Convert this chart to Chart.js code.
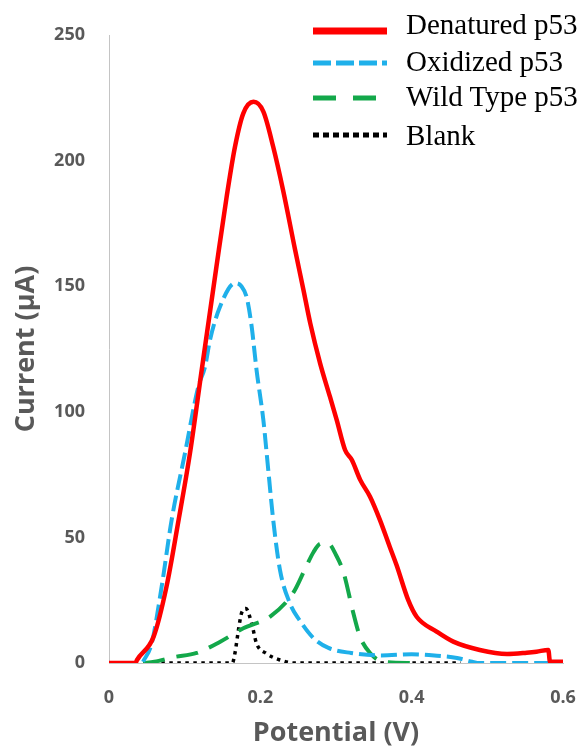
<!DOCTYPE html>
<html lang="en">
<head>
  <meta charset="UTF-8" />
  <title>p53 Voltammetry</title>
  <script src="https://cdn.jsdelivr.net/npm/chart.js"></script>
  <style>
    body { margin: 0; background: #fff; overflow: hidden; }
    .wrap { position: relative; width: 584px; height: 747px; }
    canvas { display: block; }
    .legend { position: absolute; left: 0; top: 0; font-family: "Liberation Serif", "Times New Roman", serif; font-size: 29px; color: #000; }
    .legend .row { position: absolute; left: 313px; white-space: nowrap; }
    .legend svg { position: absolute; left: 0; }
    .legend span { position: absolute; left: 93px; line-height: 1; }
  </style>
</head>
<body>
  <div class="wrap">
    <canvas id="chart" width="584" height="747"></canvas>
    <div class="legend" id="legend"></div>
  </div>
  <script>
    // Potential (V) / current (uA)
    const denaturedV = [0, 0.035, 0.037, 0.059, 0.076, 0.092, 0.107, 0.1225, 0.142, 0.1555, 0.1665, 0.1775, 0.191, 0.204, 0.217, 0.230, 0.246, 0.257, 0.266, 0.279, 0.292, 0.301, 0.312, 0.321, 0.332, 0.345, 0.358, 0.371, 0.380, 0.3955, 0.4066, 0.433, 0.455, 0.49, 0.526, 0.552, 0.565, 0.5806, 0.5828, 0.6];
    const denaturedI = [0, 0, 1.2, 10.5, 30.4, 57, 83.5, 116.6, 157.8, 185.6, 205.5, 218.8, 223.4, 219.5, 205.5, 188.3, 164.4, 148.5, 135.2, 119.3, 106, 96.7, 84.8, 80.8, 72.9, 66.2, 57, 46.3, 39, 25, 18.4, 12.5, 8.5, 5.2, 3.6, 4.1, 4.5, 5.2, 0.5, 0.5];

    const oxidizedV = [0.045, 0.0564, 0.0696, 0.0828, 0.1004, 0.118, 0.127, 0.1335, 0.1467, 0.1665, 0.175, 0.182, 0.1885, 0.193, 0.195, 0.204, 0.2105, 0.217, 0.226, 0.239, 0.252, 0.27, 0.29, 0.32, 0.36, 0.40, 0.43, 0.46, 0.48, 0.49, 0.583];
    const oxidizedI = [0.5, 7.8, 30.4, 57, 83.5, 110, 118, 128.6, 141.8, 151.2, 150, 145.5, 134, 122, 116.6, 96.7, 76.8, 57, 37, 23.8, 17, 10, 6, 4, 3, 3.5, 3, 2, 0.5, 0, 0];

    const wildV = [0.045, 0.06, 0.085, 0.116, 0.147, 0.1775, 0.213, 0.2436, 0.26, 0.27, 0.28, 0.29, 0.30, 0.31, 0.3228, 0.3317, 0.345, 0.362, 0.40];
    const wildI = [0, 0.5, 2.3, 4, 8.5, 13.8, 18.5, 28, 38, 44, 47.5, 47.5, 43, 36, 20, 10.5, 4, 0.5, 0];

    const blankV = [0.048, 0.163, 0.1665, 0.171, 0.175, 0.181, 0.1885, 0.195, 0.208, 0.226, 0.245, 0.465];
    const blankI = [0, 0, 4, 13, 19.7, 21.7, 15.8, 7.8, 3.8, 1.2, 0, 0];

    const seriesNames = ['Denatured p53', 'Oxidized p53', 'Wild Type p53', 'Blank'];
    const xTickLabels = ['0', '0.2', '0.4', '0.6'];
    const yTicks = [0, 50, 100, 150, 200, 250];

    const gray = '#595959';
    const toPoints = (xs, ys) => xs.map((x, i) => ({ x, y: ys[i] }));

    const styles = [
      { color: '#ff0000', width: 4.5, dash: [], legendWidth: 7, legendDash: [] },
      { color: '#1fb0ea', width: 4, dash: [16, 6], legendWidth: 5, legendDash: [18, 5] },
      { color: '#13a84a', width: 4, dash: [22, 12], legendWidth: 5, legendDash: [23, 17] },
      { color: '#000000', width: 3.5, dash: [3.5, 4.5], legendWidth: 5, legendDash: [6, 4] }
    ];
    const seriesData = [
      toPoints(denaturedV, denaturedI),
      toPoints(oxidizedV, oxidizedI),
      toPoints(wildV, wildI),
      toPoints(blankV, blankI)
    ];

    new Chart(document.getElementById('chart'), {
      type: 'line',
      data: {
        datasets: seriesData.map((data, i) => ({
          label: seriesNames[i],
          data,
          borderColor: styles[i].color,
          borderWidth: styles[i].width,
          borderDash: styles[i].dash,
          pointRadius: 0,
          fill: false,
          tension: 0.4,
          cubicInterpolationMode: 'monotone'
        }))
      },
      options: {
        responsive: false,
        animation: false,
        layout: { padding: { top: 35, right: 21, left: 0, bottom: 0 } },
        plugins: { legend: { display: false }, tooltip: { enabled: false } },
        scales: {
          x: {
            type: 'linear',
            min: 0,
            max: 0.6,
            afterFit: s => { s.height = 84; s.paddingLeft = 0; s.paddingRight = 0; },
            afterBuildTicks: s => { s.ticks = xTickLabels.map(Number).map(v => ({ value: v })); },
            ticks: {
              padding: 24,
              color: gray,
              font: { family: 'Open Sans', weight: 'bold', size: 18 },
              callback: (v, i) => xTickLabels[i]
            },
            grid: { display: false, drawTicks: false },
            border: { display: true, color: '#c4c4c4', width: 1 },
            title: {
              display: true,
              text: 'Potential (V)',
              color: gray,
              padding: { top: 0, bottom: 0 },
              font: { family: 'Open Sans', weight: 'bold', size: 27, lineHeight: 1 }
            }
          },
          y: {
            min: 0,
            max: 250,
            afterFit: s => { s.width = 109; s.paddingTop = 0; s.paddingBottom = 0; },
            afterBuildTicks: s => { s.ticks = yTicks.map(v => ({ value: v })); },
            ticks: {
              padding: 24,
              color: gray,
              font: { family: 'Open Sans', weight: 'bold', size: 18 }
            },
            grid: { display: false, drawTicks: false },
            border: { display: true, color: '#c4c4c4', width: 1 },
            title: {
              display: true,
              text: 'Current (μA)',
              color: gray,
              padding: { top: 13, bottom: 0 },
              font: { family: 'Open Sans', weight: 'bold', size: 27, lineHeight: 1 }
            }
          }
        }
      }
    });

    // legend drawn as html so it can sit inside the plot like the original
    const lineY = [31, 63, 98, 135];
    const textY = [25, 62, 97, 136];
    const legend = document.getElementById('legend');
    seriesNames.forEach((name, i) => {
      const st = styles[i];
      const row = document.createElement('div');
      row.className = 'row';
      row.style.top = '0px';
      const dash = st.legendDash.length ? `stroke-dasharray="${st.legendDash.join(' ')}"` : '';
      row.innerHTML =
        `<svg width="74" height="12" style="top:${lineY[i] - 6}px"><line x1="0" y1="6" x2="74" y2="6" stroke="${st.color}" stroke-width="${st.legendWidth}" ${dash}/></svg>` +
        `<span style="top:${textY[i] - 15}px">${name}</span>`;
      legend.appendChild(row);
    });
  </script>
</body>
</html>
